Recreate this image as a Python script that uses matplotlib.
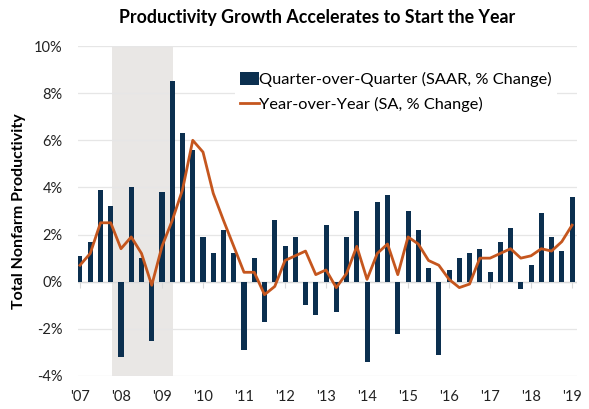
import matplotlib
matplotlib.use("Agg")
import matplotlib.pyplot as plt
from matplotlib.patches import Patch
from matplotlib.lines import Line2D
import numpy as np

plt.rcParams["font.family"] = ["Lato", "DejaVu Sans"]

# quarterly, 2007 Q1 .. 2019 Q1
qoq = [1.1, 1.7, 3.9, 3.2,
       -3.2, 4.0, 1.0, -2.5,
       3.8, 8.5, 6.3, 5.6,
       1.9, 1.2, 2.2, 1.2,
       -2.9, 1.0, -1.7, 2.6,
       1.5, 1.9, -1.0, -1.4,
       2.4, -1.3, 1.9, 3.0,
       -3.4, 3.4, 3.7, -2.2,
       3.0, 2.2, 0.6, -3.1,
       0.5, 1.0, 1.2, 1.4,
       0.4, 1.7, 2.3, -0.3,
       0.7, 2.9, 1.9, 1.3,
       3.6]
yoy = [0.7, 1.2, 2.5, 2.5,
       1.4, 1.9, 1.2, -0.15,
       1.5, 2.6, 3.9, 6.0,
       5.5, 3.75, 2.6, 1.5,
       0.4, 0.4, -0.55, -0.2,
       0.9, 1.1, 1.3, 0.3,
       0.5, -0.25, 0.35, 1.5,
       0.1, 1.2, 1.6, 0.3,
       1.9, 1.6, 0.9, 0.7,
       0.1, -0.25, -0.1, 1.0,
       1.0, 1.2, 1.4, 1.0,
       1.1, 1.4, 1.3, 1.7,
       2.4]
year_labels = ["'07", "'08", "'09", "'10", "'11", "'12", "'13",
               "'14", "'15", "'16", "'17", "'18", "'19"]
# recession Dec 2007 - Jun 2009, in quarter index units
recession = (3.1, 9.05)

navy = "#0B2F4F"
orange = "#C5561E"

x = np.arange(len(qoq))

fig = plt.figure(figsize=(5.89, 4.09), dpi=100)
ax = fig.add_axes([0.1324, 0.0807, 0.8465, 0.8068])

ax.axvspan(recession[0], recession[1], color="#E9E7E5", lw=0, zorder=0)
ax.bar(x, qoq, width=0.49, color=navy, zorder=3)
ax.plot(x, yoy, color=orange, lw=2, zorder=4)

ax.set_ylim(-4, 10)
ax.set_xlim(-0.195, 48.44)
ax.set_yticks(range(-4, 11, 2))
ax.set_yticklabels(["%d%%" % v for v in range(-4, 11, 2)], fontsize=10.5)
ax.yaxis.grid(True, color="#E6E6E6", lw=0.9, zorder=1)
ax.set_axisbelow(True)
ax.axhline(0, color="#D9D9D9", lw=1, zorder=2)

ax.set_xticks(x[::4])
ax.set_xticklabels(year_labels, fontsize=10.5)
ax.tick_params(axis="both", length=0, colors="#222222")
ax.tick_params(axis="y", pad=11)
ax.tick_params(axis="x", pad=10)
for s in ax.spines.values():
    s.set_visible(False)

# small tick marks on the zero line
sec = ax.secondary_xaxis(4 / 14)
sec.set_xticks(x[::4])
sec.set_xticklabels([])
sec.tick_params(axis="x", length=4, color="#D9D9D9", direction="out")
sec.spines["bottom"].set_visible(False)

ax.set_ylabel("Total Nonfarm Productivity", fontsize=11.5, fontweight="bold", labelpad=6)

handles = [Patch(facecolor=navy, edgecolor="none"), Line2D([0], [0], color=orange, lw=2)]
labels = ["Quarter-over-Quarter (SAAR, % Change)", "Year-over-Year (SA, % Change)"]
leg = ax.legend(handles, labels, loc="upper left", bbox_to_anchor=(0.298, 0.96),
                frameon=True, framealpha=1, edgecolor="none", fontsize=11.8,
                handlelength=1.15, handleheight=0.8, handletextpad=0.05,
                labelspacing=0.6, borderpad=0.3, fancybox=False)
leg.set_zorder(5)

fig.text(317 / 589, 1 - 18 / 409, "Productivity Growth Accelerates to Start the Year",
         ha="center", va="center", fontsize=12.8, fontweight="bold")

fig.savefig("out.png", dpi=100)
